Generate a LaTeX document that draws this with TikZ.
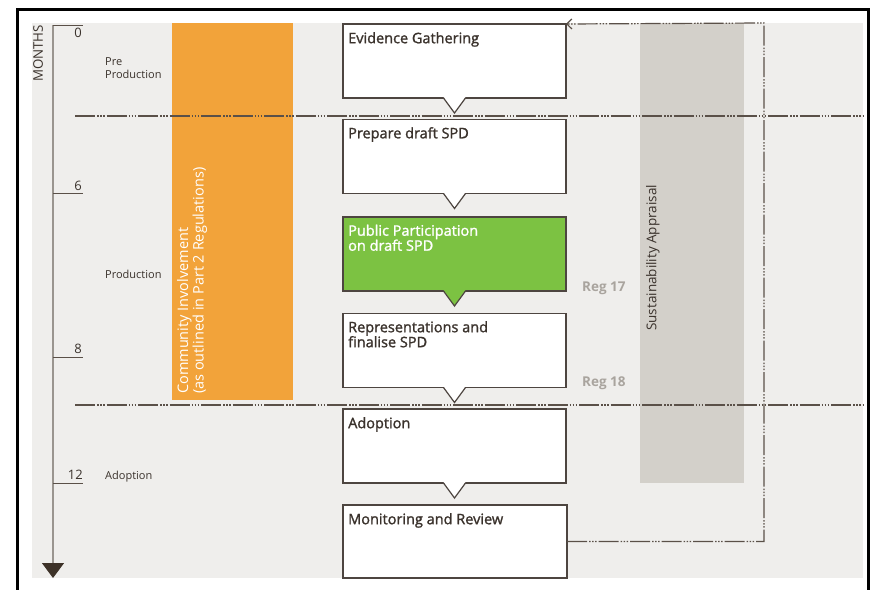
\documentclass[tikz,border=0pt]{standalone}
\usepackage{fontspec}
\setmainfont{Open Sans}
\newfontfamily\boxfont{Open Sans}[FakeBold=1.5]
\usetikzlibrary{arrows.meta}
\definecolor{bgc}{HTML}{EFEEEC}
\definecolor{orangec}{HTML}{F2A33A}
\definecolor{greenc}{HTML}{7CC242}
\definecolor{sagray}{HTML}{D3D0CA}
\definecolor{boxc}{HTML}{4D4540}
\definecolor{linec}{HTML}{5A5048}
\definecolor{axisc}{HTML}{9A958F}
\definecolor{darkc}{HTML}{3D3228}
\definecolor{txt}{HTML}{3A322C}
\definecolor{regc}{HTML}{A9A49E}
\newcommand\dpointer[2]{%
  \fill[#2] ([xshift=-11pt,yshift=1pt]#1.south) -- ([yshift=-15pt]#1.south) -- ([xshift=11pt,yshift=1pt]#1.south) -- cycle;
  \draw[boxc, line width=1.2pt, line join=miter] ([xshift=-11pt]#1.south) -- ([yshift=-15pt]#1.south) -- ([xshift=11pt]#1.south);}
\begin{document}
\begin{tikzpicture}[x=1pt,y=-1pt,
  stepbox/.style={draw=boxc, line width=1.2pt, fill=white, minimum width=223pt, minimum height=74pt, inner sep=0pt, outer sep=0pt},
  boxtext/.style={anchor=north west, inner sep=0pt, align=left, font=\boxfont\fontsize{14.5}{15}\selectfont, text=txt},
  ddline/.style={draw=linec, line width=1.1pt, dash pattern=on 20pt off 2pt on 1.5pt off 1.5pt on 1.5pt off 1.5pt on 1.5pt off 2pt},
  ticklab/.style={anchor=base east, inner sep=0pt, font=\fontsize{13}{15}\selectfont, text=txt},
  phase/.style={anchor=base west, inner sep=0pt, align=left, font=\fontsize{11}{13}\selectfont, text=txt},
  reglab/.style={anchor=base west, inner sep=0pt, font=\bfseries\fontsize{13.5}{15}\selectfont, text=regc}]
\useasboundingbox (0,0) rectangle (877,589);
% background
\fill[bgc] (32,23) rectangle (863,578);
% outer frame
\begin{scope}
\clip (0,0) rectangle (877,589);
\draw[black, line width=3pt] (17,600) -- (17,9) -- (868,9) -- (868,600);
\end{scope}
% bars
\fill[orangec] (172,23) rectangle (293,400);
\fill[sagray] (640,23) rectangle (744,483);
\node[rotate=90, anchor=north west, inner sep=0pt, align=left, text=white, font=\fontsize{14.5}{14}\selectfont] (ci) at (177,394) {Community Involvement\\(as outlined in Part 2 Regulations)};
\node[rotate=90, anchor=north west, inner sep=0pt, text=txt, font=\fontsize{13.5}{14}\selectfont] (sa) at (646,331) {Sustainability Appraisal};
% time axis
\coordinate (ax0) at (53,25);
\coordinate (ax1) at (53,578);
\draw[axisc, line width=1.2pt, -{Triangle[length=15pt,width=22pt,color=darkc]}] (ax0) -- (ax1);
\foreach \yy in {25,193,357,483}{
  \draw[linec, line width=1pt] (53,\yy) -- (83,\yy);
}
\node[ticklab] (t0) at (82,37) {0};
\node[ticklab] (t6) at (82,190) {6};
\node[ticklab] (t8) at (82,353) {8};
\node[ticklab] (t12) at (83,479) {12};
\node[rotate=90, inner sep=0pt, text=txt, font=\fontsize{13.3}{15}\selectfont] (months) at (38,53.5) {MONTHS};
\node[phase] (pp) at (105,78) {Pre\\Production};
\node[phase] (pr) at (105,278) {Production};
\node[phase] (ad) at (105,479) {Adoption};
% phase separators
\draw[ddline] (75,116) -- (863,116);
\draw[ddline] (75,405) -- (863,405);
% boxes
\node[stepbox] (E) at (454.5,61) {};
\node[stepbox] (P) at (454.5,156.5) {};
\node[stepbox, fill=greenc] (G) at (454.5,254) {};
\node[stepbox] (R) at (454.5,350.5) {};
\node[stepbox] (A) at (454.5,446) {};
\node[stepbox, minimum width=224pt, minimum height=73pt] (M) at (455,541.5) {};
\dpointer{E}{white}
\dpointer{P}{white}
\dpointer{G}{greenc}
\dpointer{R}{white}
\dpointer{A}{white}
\node[boxtext] (Et) at (348,32) {Evidence Gathering};
\node[boxtext] (Pt) at (348,127) {Prepare draft SPD};
\node[boxtext, text=white] (Gt) at (348,224.5) {Public Participation\\on draft SPD};
\node[boxtext] (Rt) at (348,321) {Representations and\\finalise SPD};
\node[boxtext] (At) at (348,417) {Adoption};
\node[boxtext] (Mt) at (348,513) {Monitoring and Review};
\node[reglab] (r17) at (582,291.5) {Reg 17};
\node[reglab] (r18) at (582,386.5) {Reg 18};
% feedback loop
\coordinate (fb1) at (764,541.5);
\coordinate (fb2) at (764,23);
\draw[ddline, line width=1.2pt, -{Straight Barb[length=5pt,width=10pt]}] (M.east) -- (fb1) -- (fb2) -- (E.north east);
\end{tikzpicture}
\end{document}
